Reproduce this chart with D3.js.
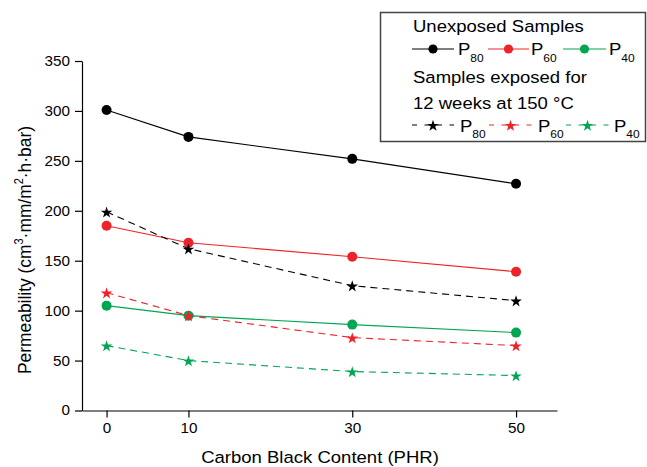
<!DOCTYPE html>
<html>
<head>
<meta charset="utf-8">
<script src="https://cdn.jsdelivr.net/npm/d3@7"></script>
<style>
  html, body { margin: 0; padding: 0; background: #fff; }
  svg { display: block; font-family: "Liberation Sans", Arial, sans-serif; }
</style>
</head>
<body>
<svg id="chart" width="647" height="467"></svg>
<script>
// Carbon black loading (PHR) on the x axis
const carbonBlack = [0, 10, 30, 50];
const xTicks = [0, 10, 30, 50];
const yTicks = [0, 50, 100, 150, 200, 250, 300, 350];

// Permeability, unexposed samples
const unexposedP80 = [301, 274, 252, 227];
const unexposedP60 = [185, 168, 154, 139];
const unexposedP40 = [105, 95, 86, 78];

// Permeability after 12 weeks at 150 °C
const agedP80 = [199, 162, 125, 110];
const agedP60 = [118, 95, 73, 65];
const agedP40 = [65, 50, 39, 35];

const BLACK = "#000000", RED = "#ee2229", GREEN = "#00a651";
// Text is set slightly wide
const SX = 1.09;

const series = [
  { values: unexposedP80, color: BLACK, dashed: false },
  { values: unexposedP60, color: RED, dashed: false },
  { values: unexposedP40, color: GREEN, dashed: false },
  { values: agedP80, color: BLACK, dashed: true },
  { values: agedP60, color: RED, dashed: true },
  { values: agedP40, color: GREEN, dashed: true }
];

const svg = d3.select("#chart");

const x = d3.scaleLinear().domain([-3, 55]).range([82, 557]);
const y = d3.scaleLinear().domain([0, 350]).range([410.5, 61]);

function wideText(parent, px, py, size) {
  return parent.append("text")
    .attr("transform", `translate(${px},${py}) scale(${SX},1)`)
    .style("font-size", size + "px");
}

// Axes
const xAxis = svg.append("g")
  .attr("transform", `translate(0,${y(0)})`)
  .call(d3.axisBottom(x).tickValues(xTicks).tickSize(7).tickSizeOuter(0).tickPadding(6));
const yAxis = svg.append("g")
  .attr("transform", `translate(${x(-3)},0)`)
  .call(d3.axisLeft(y).tickValues(yTicks).tickSize(7).tickSizeOuter(0).tickPadding(5));

[xAxis, yAxis].forEach(g => {
  g.selectAll("path.domain").attr("stroke", "#000").attr("stroke-width", 1.2);
  g.selectAll(".tick line").attr("stroke", "#000").attr("stroke-width", 1.2);
  g.selectAll(".tick text")
    .attr("fill", "#000")
    .style("font-family", "'Liberation Sans', Arial, sans-serif")
    .style("font-size", "14px");
});
xAxis.selectAll(".tick text").attr("transform", `scale(${SX},1)`);
yAxis.selectAll(".tick text").attr("x", -12 / SX).attr("transform", `scale(${SX},1)`);

// Axis titles
wideText(svg, 320, 463, 17)
  .attr("text-anchor", "middle")
  .text("Carbon Black Content (PHR)");

const yTitle = svg.append("text")
  .attr("transform", `translate(30.5,250) scale(${SX},1) rotate(-90)`)
  .attr("text-anchor", "middle")
  .style("font-size", "17.4px");
yTitle.append("tspan").text("Permeability (cm");
yTitle.append("tspan").attr("dy", -7).style("font-size", "11px").text("3");
yTitle.append("tspan").attr("dy", 7).text("·mm/m");
yTitle.append("tspan").attr("dy", -7).style("font-size", "11px").text("2");
yTitle.append("tspan").attr("dy", 7).text("·h·bar)");

// Lines and markers
const line = d3.line().x((d, i) => x(carbonBlack[i])).y(d => y(d));
const star = d3.symbol().type(d3.symbolStar).size(42);

series.forEach(s => {
  svg.append("path")
    .datum(s.values)
    .attr("d", line)
    .attr("fill", "none")
    .attr("stroke", s.color)
    .attr("stroke-width", 1.1)
    .attr("stroke-dasharray", s.dashed ? "7,5" : null);
});

series.forEach(s => {
  const g = svg.append("g");
  if (s.dashed) {
    g.selectAll("path").data(s.values).join("path")
      .attr("d", star)
      .attr("transform", (d, i) => `translate(${x(carbonBlack[i])},${y(d) + 0.8})`)
      .attr("fill", s.color);
  } else {
    g.selectAll("circle").data(s.values).join("circle")
      .attr("cx", (d, i) => x(carbonBlack[i]))
      .attr("cy", d => y(d))
      .attr("r", 5)
      .attr("fill", s.color);
  }
});

// Legend
const legend = svg.append("g");
legend.append("rect")
  .attr("x", 380.5).attr("y", 12.5).attr("width", 265).attr("height", 129)
  .attr("fill", "#fff").attr("stroke", "#444").attr("stroke-width", 1.5);

wideText(legend, 413, 31.5, 17).text("Unexposed Samples");
wideText(legend, 413, 83, 17).text("Samples exposed for");
wideText(legend, 413, 108.5, 17).text("12 weeks at 150 °C");

const solidEntries = [
  { x0: 412, x1: 454, px: 458, color: BLACK, label: "80" },
  { x0: 488, x1: 529, px: 531, color: RED, label: "60" },
  { x0: 563, x1: 606, px: 609, color: GREEN, label: "40" }
];
const dashedEntries = [
  { x0: 412, x1: 454, px: 460, color: BLACK, label: "80" },
  { x0: 489, x1: 532, px: 538, color: RED, label: "60" },
  { x0: 566, x1: 609, px: 614, color: GREEN, label: "40" }
];

function pLabel(px, baseline, sub) {
  const t = wideText(legend, px, baseline, 17);
  t.append("tspan").text("P");
  t.append("tspan").attr("dy", 6.5).style("font-size", "11px").text(sub);
}

solidEntries.forEach(e => {
  legend.append("line")
    .attr("x1", e.x0).attr("x2", e.x1).attr("y1", 49).attr("y2", 49)
    .attr("stroke", e.color).attr("stroke-width", 1.1);
  legend.append("circle")
    .attr("cx", (e.x0 + e.x1) / 2).attr("cy", 49).attr("r", 4.6).attr("fill", e.color);
  pLabel(e.px, 55, e.label);
});

dashedEntries.forEach(e => {
  legend.append("line")
    .attr("x1", e.x0).attr("x2", e.x1).attr("y1", 125).attr("y2", 125)
    .attr("stroke", e.color).attr("stroke-width", 1.1)
    .attr("stroke-dasharray", "5,7.5");
  legend.append("path")
    .attr("d", star)
    .attr("transform", `translate(${(e.x0 + e.x1) / 2},${125.8})`)
    .attr("fill", e.color);
  pLabel(e.px, 131.5, e.label);
});
</script>
</body>
</html>
